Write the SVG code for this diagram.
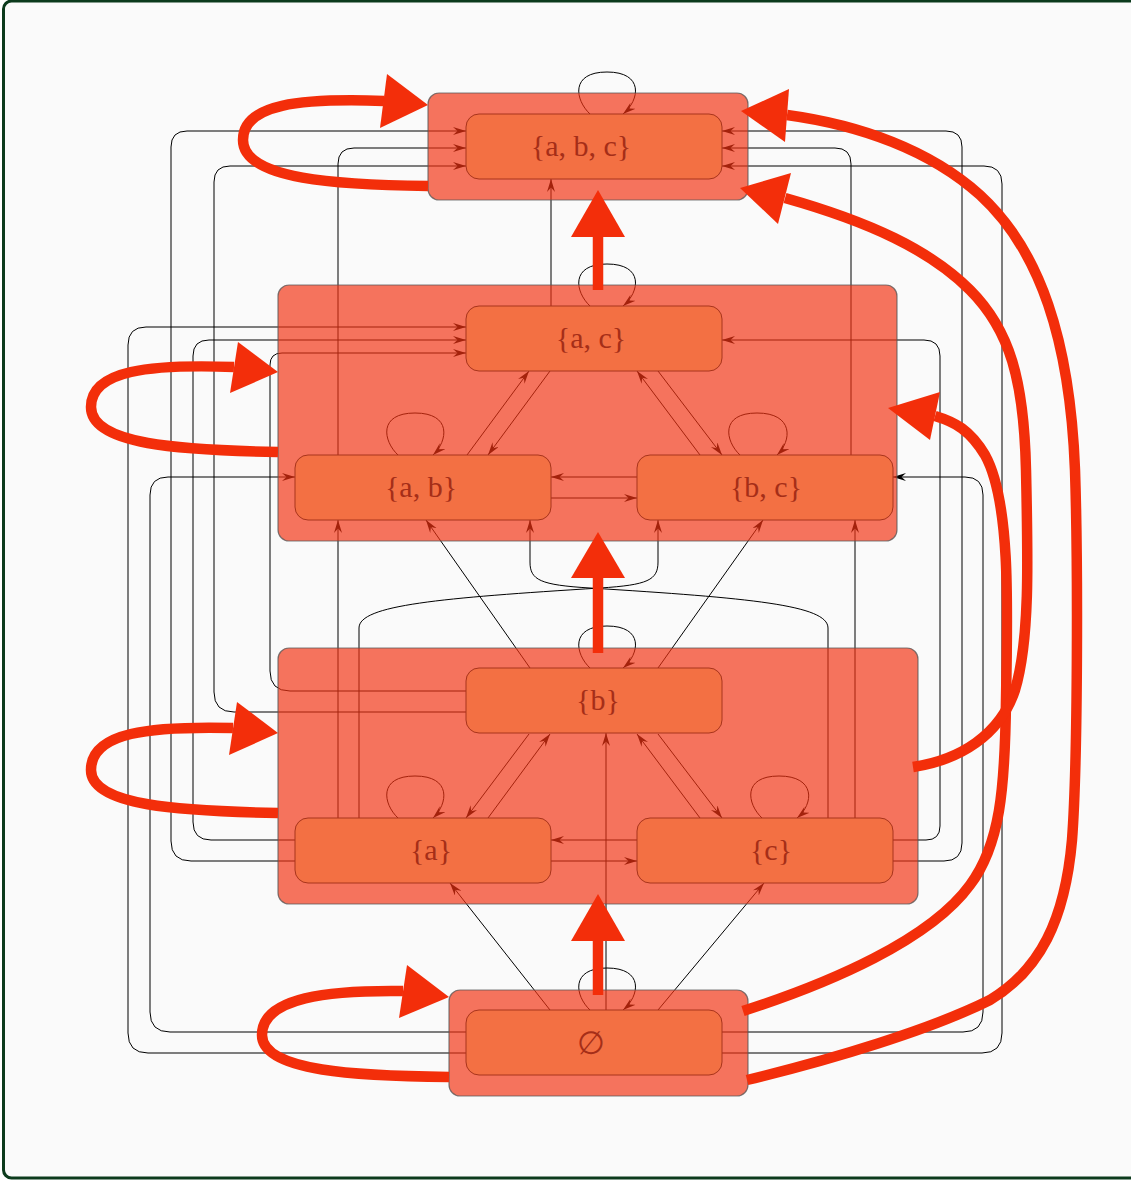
<svg xmlns="http://www.w3.org/2000/svg" width="1131" height="1180" viewBox="0 0 1131 1180">
<style>
.e{fill:none;stroke:#000;stroke-width:1;marker-end:url(#arr)}
.cl{fill:rgb(241,50,18);fill-opacity:.68;stroke:#555;stroke-opacity:.75;stroke-width:1.2}
.nd{fill:#f37043;stroke:#a8341c;stroke-width:1}
.lbl{font-family:"Liberation Serif","DejaVu Serif",serif;font-size:30px;fill:#a52e18;text-anchor:middle}
.th{fill:none;stroke:#f32e0a;stroke-width:10.5}
.hd{fill:#f32e0a;stroke:none}
</style>
<defs>
<marker id="arr" markerUnits="userSpaceOnUse" markerWidth="14" markerHeight="9" refX="13" refY="4" orient="auto">
<path d="M0,0 L13,4 L0,8 L4.5,4 Z" fill="#000"/>
</marker>
</defs>
<rect x="3.5" y="1" width="1150" height="1177" rx="8" fill="#fafafa" stroke="#0c3a1c" stroke-width="3"/>

<g id="edges">
<path class="e" d="M590,114 C575,100 570,72 607,72 C644,72 640,100 623,114"/>
<path class="e" d="M590,306 C575,292 570,264 607,264 C644,264 640,292 623,306"/>
<path class="e" d="M590,668 C575,654 570,626 607,626 C644,626 640,654 623,668"/>
<path class="e" d="M590,1010 C575,996 570,968 607,968 C644,968 640,996 623,1010"/>
<path class="e" d="M398,455 C383,441 378,413 415,413 C452,413 448,441 433,455"/>
<path class="e" d="M398,818 C383,804 378,776 415,776 C452,776 448,804 433,818"/>
<path class="e" d="M740,455 C725,441 720,413 757,413 C794,413 792,441 777,455"/>
<path class="e" d="M762,818 C747,804 742,776 779,776 C816,776 814,804 797,818"/>
<path class="e" d="M529,734 L466,818"/>
<path class="e" d="M488,818 L550,734"/>
<path class="e" d="M700,818 L637,734"/>
<path class="e" d="M658,734 L722,818"/>
<path class="e" d="M467,455 L529,371"/>
<path class="e" d="M550,371 L488,455"/>
<path class="e" d="M700,455 L637,371"/>
<path class="e" d="M658,371 L722,455"/>
<path class="e" d="M530,668 L426,520"/>
<path class="e" d="M658,668 L763,520"/>
<path class="e" d="M550,1010 L450,883"/>
<path class="e" d="M658,1010 L764,883"/>
<path class="e" d="M637,840 L551,840"/>
<path class="e" d="M551,861 L637,861"/>
<path class="e" d="M637,477 L551,477"/>
<path class="e" d="M551,498 L637,498"/>
<path class="e" d="M359,818 V628 C359,605 440,598 600,588 C648,585 658,580 658,562 V520"/>
<path class="e" d="M828,818 V628 C828,605 750,598 590,588 C540,585 530,580 530,562 V520"/>
<path class="e" d="M466,1053 H148 Q128,1053 128,1033 V345 Q128,327 146,327 H466"/>
<path class="e" d="M466,1032 H170 Q150,1032 150,1012 V495 Q150,477 168,477 H295"/>
<path class="e" d="M295,861 H191 Q171,861 171,841 V147 Q171,131 187,131 H466"/>
<path class="e" d="M295,840 H211 Q193,840 193,822 V356 Q193,340 209,340 H466"/>
<path class="e" d="M466,712 H234 Q214,712 214,692 V182 Q214,166 230,166 H466"/>
<path class="e" d="M466,691 H290 Q270,691 270,671 V365 Q270,353 282,353 H466"/>
<path class="e" d="M338,455 V164 Q338,148 354,148 H466"/>
<path class="e" d="M338,818 V520"/>
<path class="e" d="M722,1053 H982 Q1002,1053 1002,1033 V184 Q1002,166 984,166 H722"/>
<path class="e" d="M722,1032 H963 Q983,1032 983,1012 V495 Q983,477 965,477 H893"/>
<path class="e" d="M893,861 H944 Q962,861 962,843 V147 Q962,131 946,131 H722"/>
<path class="e" d="M893,840 H926 Q940,840 940,826 V356 Q940,340 924,340 H722"/>
<path class="e" d="M851,455 V164 Q851,148 835,148 H722"/>
<path class="e" d="M855,818 V520"/>
<path class="e" d="M606,1010 V733"/>
<path class="e" d="M551,306 V179"/>
</g>

<g id="cluster-top"><rect class="cl" x="428" y="93" width="320" height="107" rx="11"/></g>
<g id="cluster-pairs"><rect class="cl" x="278" y="285" width="619" height="256" rx="11"/></g>
<g id="cluster-singles"><rect class="cl" x="278" y="648" width="640" height="256" rx="11"/></g>
<g id="cluster-empty"><rect class="cl" x="449" y="990" width="299" height="106" rx="11"/></g>

<g id="node-abc"><rect class="nd" x="466" y="114" width="256" height="65" rx="13"/><text class="lbl" x="581" y="156">{a, b, c}</text></g>
<g id="node-ac"><rect class="nd" x="466" y="306" width="256" height="65" rx="13"/><text class="lbl" x="591" y="348">{a, c}</text></g>
<g id="node-ab"><rect class="nd" x="295" y="455" width="256" height="65" rx="13"/><text class="lbl" x="421" y="497">{a, b}</text></g>
<g id="node-bc"><rect class="nd" x="637" y="455" width="256" height="65" rx="13"/><text class="lbl" x="766" y="497">{b, c}</text></g>
<g id="node-b"><rect class="nd" x="466" y="668" width="256" height="65" rx="13"/><text class="lbl" x="598" y="710">{b}</text></g>
<g id="node-a"><rect class="nd" x="295" y="818" width="256" height="65" rx="13"/><text class="lbl" x="431" y="860">{a}</text></g>
<g id="node-c"><rect class="nd" x="637" y="818" width="256" height="65" rx="13"/><text class="lbl" x="771" y="860">{c}</text></g>
<g id="node-empty"><rect class="nd" x="466" y="1010" width="256" height="65" rx="13"/><text class="lbl" x="591" y="1054" style="font-size:32px">∅</text></g>

<g id="cluster-edges">
<path class="th" d="M428,186 C340,185 243,180 243,140 C243,104 300,98 384,101"/>
<polygon class="hd" points="428,105 387,74 380,128"/>
<path class="th" d="M278,452 C180,450 91,445 91,407 C91,370 150,364 234,367"/>
<polygon class="hd" points="278,372 238,342 230,393"/>
<path class="th" d="M278,813 C180,811 91,806 91,770 C91,732 150,726 233,728"/>
<polygon class="hd" points="278,733 237,702 229,755"/>
<path class="th" d="M449,1077 C360,1076 262,1072 262,1035 C262,997 330,990 403,991"/>
<polygon class="hd" points="449,997 407,965 399,1018"/>
<path class="th" d="M598,995 V940"/>
<polygon class="hd" points="598,894 571,941 625,941"/>
<path class="th" d="M598,653 V577"/>
<polygon class="hd" points="598,532 571,578 625,578"/>
<path class="th" d="M598,290 V236"/>
<polygon class="hd" points="598,190 571,237 625,237"/>
<path class="th" d="M743,1011 C830,983 930,940 970,885 C1000,845 1005,790 1006,700 C1008,600 1010,500 985,455 C970,430 955,422 935,416"/>
<polygon class="hd" points="888,408 940,392 930,440"/>
<path class="th" d="M913,767 C960,760 1000,735 1015,690 C1030,640 1028,560 1026,470 C1024,380 1010,330 970,290 C930,250 870,222 785,198"/>
<polygon class="hd" points="740,188 791,173 778,224"/>
<path class="th" d="M747,1080 C830,1060 930,1030 990,1000 C1040,970 1065,920 1072,840 C1078,760 1078,560 1075,470 C1070,340 1040,250 980,195 C930,150 860,125 787,115"/>
<polygon class="hd" points="741,111 789,89 785,142"/>
</g>
</svg>
